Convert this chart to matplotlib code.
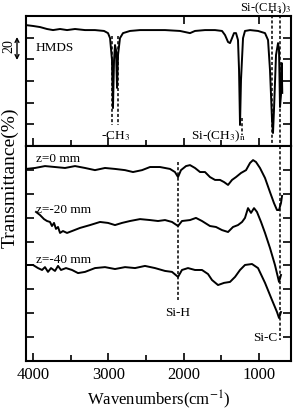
import matplotlib
matplotlib.use("Agg")
import matplotlib.pyplot as plt

plt.rcParams["font.family"] = ["Liberation Serif", "DejaVu Serif"]
plt.rcParams["mathtext.fontset"] = "stix"

# HMDS reference spectrum (wavenumber, transmittance in tick units)
hmds_wn = [4093, 4000, 3907, 3814, 3734, 3641, 3548, 3442, 3309, 3177, 3057, 3004,
           2977, 2951, 2938, 2924, 2911, 2898, 2884, 2871, 2845, 2805, 2712, 2579,
           2446, 2247, 2048, 1915, 1849, 1716, 1583, 1490, 1450, 1410, 1384, 1357,
           1331, 1304, 1278, 1264, 1251, 1238, 1211, 1185, 1118, 1012, 919, 879,
           853, 826, 813, 800, 773, 746, 733, 720, 707, 697, 690]
hmds_t = [5.58, 5.54, 5.49, 5.40, 5.35, 5.40, 5.35, 5.40, 5.35, 5.35, 5.31, 5.21,
          4.98, 3.97, 1.75, 3.97, 4.66, 4.43, 2.68, 4.20, 4.98, 5.21, 5.31, 5.35,
          5.35, 5.35, 5.31, 5.21, 5.31, 5.35, 5.35, 5.31, 5.12, 4.80, 4.75, 4.98,
          5.21, 5.21, 4.89, 3.51, 0.97, 3.05, 4.98, 5.31, 5.35, 5.31, 5.21, 4.89,
          3.51, 1.20, 0.60, 1.66, 4.20, 4.75, 4.43, 1.80, 2.35, 3.83, 2.45]

# films at different z positions
z0_wn = [4093, 3973, 3841, 3708, 3575, 3442, 3309, 3177, 3044, 2911, 2778, 2672,
         2552, 2446, 2314, 2181, 2115, 2074, 2035, 1968, 1915, 1849, 1782, 1716,
         1650, 1583, 1517, 1463, 1410, 1357, 1304, 1238, 1171, 1118, 1078, 1039,
         986, 919, 853, 800, 760, 733, 707, 693]
z0_t = [8.04, 8.08, 8.16, 8.12, 8.08, 8.16, 8.08, 7.99, 8.08, 8.04, 7.99, 7.91,
        7.99, 8.12, 8.12, 8.04, 7.91, 7.70, 7.99, 8.16, 8.20, 8.08, 7.91, 7.91,
        7.70, 7.58, 7.58, 7.49, 7.37, 7.58, 7.70, 7.87, 7.99, 8.29, 8.41, 8.33,
        8.08, 7.66, 7.07, 6.61, 6.32, 6.32, 6.61, 6.91]

z20_wn = [3960, 3907, 3854, 3814, 3774, 3748, 3721, 3695, 3668, 3641, 3602, 3548,
          3482, 3376, 3243, 3110, 3004, 2911, 2818, 2712, 2579, 2446, 2340, 2247,
          2154, 2074, 2022, 1915, 1836, 1756, 1650, 1570, 1490, 1410, 1344, 1278,
          1224, 1185, 1145, 1105, 1065, 1026, 972, 919, 853, 787, 733, 707]
z20_t = [6.24, 6.11, 5.94, 5.86, 5.82, 5.65, 5.78, 5.53, 5.61, 5.36, 5.44, 5.36,
         5.44, 5.57, 5.69, 5.82, 5.78, 5.69, 5.78, 5.86, 5.94, 5.90, 5.86, 5.90,
         5.82, 5.65, 5.86, 5.90, 5.99, 5.86, 5.65, 5.61, 5.48, 5.40, 5.61, 5.69,
         5.82, 5.99, 6.40, 6.20, 6.40, 6.24, 5.82, 5.36, 4.73, 4.02, 3.31, 3.60]

z40_wn = [4093, 4000, 3934, 3880, 3841, 3801, 3761, 3708, 3668, 3628, 3562, 3482,
          3402, 3309, 3177, 3044, 2911, 2778, 2645, 2513, 2380, 2247, 2154, 2074,
          2022, 1942, 1849, 1756, 1676, 1623, 1543, 1463, 1384, 1317, 1251, 1185,
          1092, 1012, 919, 826, 760, 733, 707]
z40_t = [4.02, 4.02, 3.89, 3.81, 3.93, 3.73, 3.89, 3.77, 3.98, 3.81, 3.89, 3.81,
         3.68, 3.73, 3.89, 3.93, 3.85, 3.93, 3.89, 3.98, 3.89, 3.77, 3.73, 3.52,
         3.81, 3.89, 3.81, 3.81, 3.64, 3.39, 3.18, 3.27, 3.31, 3.52, 3.81, 4.02,
         4.06, 3.89, 3.27, 2.55, 2.05, 1.80, 2.05]

x_major = [4000, 3000, 2000, 1000]
x_minor = [3500, 2500, 1500]

fig = plt.figure(figsize=(2.97, 4.12), dpi=100)
W, H = 297, 412
left, right = 26 / W, 290.7 / W
ax1 = fig.add_axes([left, 1 - 146 / H, right - left, 130 / H])
ax2 = fig.add_axes([left, 1 - 361 / H, right - left, 215 / H])

lw = 1.4
dash = (0, (2, 1.4))
for ax in (ax1, ax2):
    ax.set_xlim(4093, 578)
    for s in ax.spines.values():
        s.set_linewidth(1.5)
    ax.tick_params(which="both", direction="in", width=1.2, labelleft=False,
                   left=True, right=True)
    ax.tick_params(which="major", length=6)
    ax.tick_params(which="minor", length=4)

ax1.set_ylim(0, 6)
ax1.set_yticks([1, 2, 3, 4, 5])
ax1.set_xticks(x_major)
ax1.set_xticks(x_minor, minor=True)
ax1.tick_params(labelbottom=False)
ax1.plot(hmds_wn, hmds_t, color="black", lw=lw)

# top ticks of the upper panel
sec = ax1.secondary_xaxis("top")
sec.set_xticks([2000, 1000])
sec.tick_params(direction="in", length=6, width=1.2, labeltop=False)
sec.spines["top"].set_visible(False)

ax2.set_ylim(0, 9)
ax2.set_yticks(range(1, 9))
ax2.set_xticks(x_major)
ax2.set_xticks(x_minor, minor=True)
ax2.tick_params(labelsize=12, pad=4)
ax2.plot(z0_wn, z0_t, color="black", lw=lw)
ax2.plot(z20_wn, z20_t, color="black", lw=lw)
ax2.plot(z40_wn, z40_t, color="black", lw=lw)

# dashed markers
ax1.plot([2945, 2945], [5.1, 0.95], color="black", lw=1.1, ls=dash)
ax1.plot([2872, 2872], [5.1, 0.95], color="black", lw=1.1, ls=dash)
ax1.plot([1226, 1226], [1.3, 0.5], color="black", lw=1.1, ls=dash)
ax1.plot([826, 826], [6.3, 0], color="black", lw=1.1, ls=dash, clip_on=False)
ax1.plot([722, 722], [6.3, 0], color="black", lw=1.1, ls=dash, clip_on=False)
ax2.plot([722, 722], [9, 0.88], color="black", lw=1.1, ls=dash)
ax2.plot([2074, 2074], [8.33, 2.55], color="black", lw=1.1, ls=dash)

fs = 9.5
ax1.text(3960, 4.52, "HMDS", fontsize=fs, va="center")
ax1.text(2910, 0.45, "-CH$_3$", fontsize=fs, ha="center", va="center")
ax1.text(1540, 0.45, "Si-(CH$_3$)$_\\mathrm{n}$", fontsize=fs, ha="center", va="center")
ax1.text(1255, 6.37, "Si-(CH$_3$)$_3$", fontsize=9, va="center", clip_on=False)
ax2.text(3960, 8.46, "z=0 mm", fontsize=fs, va="center")
ax2.text(3960, 6.32, "z=-20 mm", fontsize=fs, va="center")
ax2.text(3960, 4.23, "z=-40 mm", fontsize=fs, va="center")
ax2.text(2074, 2.0, "Si-H", fontsize=fs, ha="center", va="center")
ax2.text(760, 0.96, "Si-C", fontsize=fs, ha="right", va="center")

ax2.set_xlabel("Wavenumbers(cm$^{-1}$)", fontsize=12, labelpad=4)
fig.text(0.035, 1 - 178 / H, "Transmittance(%)", rotation=90, fontsize=14,
         ha="center", va="center")

# scale bar
fig.text(9 / W, 1 - 46 / H, "20", rotation=90, fontsize=10, ha="center", va="center")
ax1.annotate("", xy=(17, H - 37), xytext=(17, H - 60), xycoords="figure pixels",
             textcoords="figure pixels",
             arrowprops=dict(arrowstyle="<->", lw=1.0, color="black",
                             shrinkA=0, shrinkB=0, mutation_scale=7))

fig.savefig("out.png", dpi=100)
